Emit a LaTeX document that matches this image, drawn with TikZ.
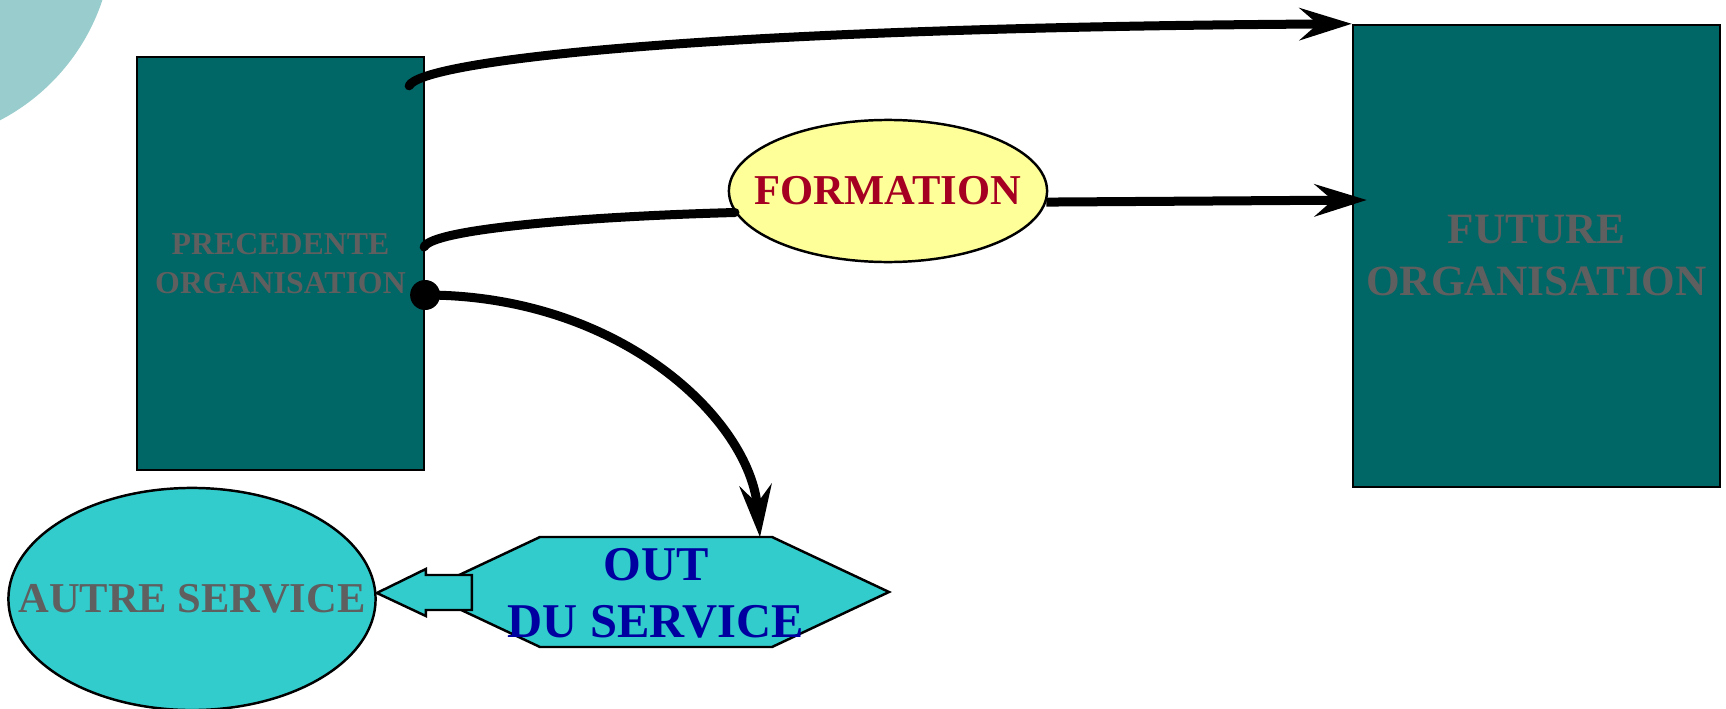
\documentclass[tikz,border=0pt]{standalone}
\usepackage{fontspec}
\setmainfont{Liberation Serif}
\usepackage{tikz}
\usetikzlibrary{positioning, arrows.meta, shapes, calc}

\definecolor{orgteal}{RGB}{0,102,102}
\definecolor{orggray}{RGB}{95,95,95}
\definecolor{paleteal}{RGB}{153,204,204}
\definecolor{servcyan}{RGB}{51,204,204}
\definecolor{formyellow}{RGB}{255,255,153}
\definecolor{formred}{RGB}{165,0,33}
\definecolor{outblue}{RGB}{0,0,160}

\begin{document}
\begin{tikzpicture}[x=0.01cm, y=-0.01cm,
    orgbox/.style={rectangle, draw=black, line width=0.6pt, fill=orgteal, text=orggray, align=center, inner sep=0pt},
    bubble/.style={ellipse, draw=black, line width=0.7pt, inner sep=0pt},
    flow/.style={line width=2.56pt, line cap=round, -{Stealth[length=0.52cm, width=0.32cm, inset=0.18cm]}}]
        \clip (0,0) rectangle (1726,709);

        % Background disc
        \fill[paleteal] (-97,-66) circle (210);

        % Organisation nodes
        \node[orgbox, minimum width=2.87cm, minimum height=4.13cm, font=\fontsize{9.05}{11.2}\selectfont\bfseries] (pre) at (280.5,263.5) {PRECEDENTE\\ORGANISATION};
        \node[orgbox, minimum width=3.67cm, minimum height=4.62cm, font=\fontsize{12.3}{14.8}\selectfont\bfseries] (future) at (1536.5,256) {FUTURE\\ORGANISATION};

        % Formation node
        \node[bubble, fill=formyellow, text=formred, minimum width=3.18cm, minimum height=1.42cm, font=\fontsize{12.1}{14}\selectfont\bfseries] (formation) at (888,191) {\makebox[0pt]{FORMATION}};

        % Service nodes
        \node[bubble, fill=servcyan, text=orggray, minimum width=3.67cm, minimum height=2.22cm, font=\fontsize{12.1}{14}\selectfont\bfseries] (autre) at (192,599) {\makebox[0pt]{AUTRE SERVICE}};
        \filldraw[fill=servcyan, line width=0.7pt] (540,537) -- (772,537) -- (889,592) -- (772,647) -- (540,647) -- (423,592) -- cycle;
        \node[text=outblue, align=center, inner sep=0pt, minimum height=1.10cm, font=\fontsize{13.8}{16.2}\selectfont\bfseries] (out) at (656,593) {OUT\\DU SERVICE};
        \filldraw[fill=servcyan, line width=0.7pt] (autre.east |- out.west) -- ++(49,-24) -- ++(0,6) -- ++(46,0) -- ++(0,35) -- ++(-46,0) -- ++(0,6) -- cycle;

        % Arrows
        \draw[flow] ($(pre.north east)+(-16,30)$) .. controls +(12,-25) and +(-653,4) .. (future.north west);
        \draw[line width=2.56pt, line cap=round] ($(pre.east)+(-1,-16.5)$) .. controls +(8,-18) and +(-150,4) .. (formation.188);
        \draw[flow, line cap=butt] (formation.356) -- ($(future.west)+(15,-56)$);
        \fill ($(pre.east)+(0,31.5)$) circle (15);
        \draw[flow] ($(pre.east)+(0,31.5)$) .. controls +(196,0) and +(-10,-117) .. ($(out.north)+(104,0)$);
    \end{tikzpicture}
\end{document}
